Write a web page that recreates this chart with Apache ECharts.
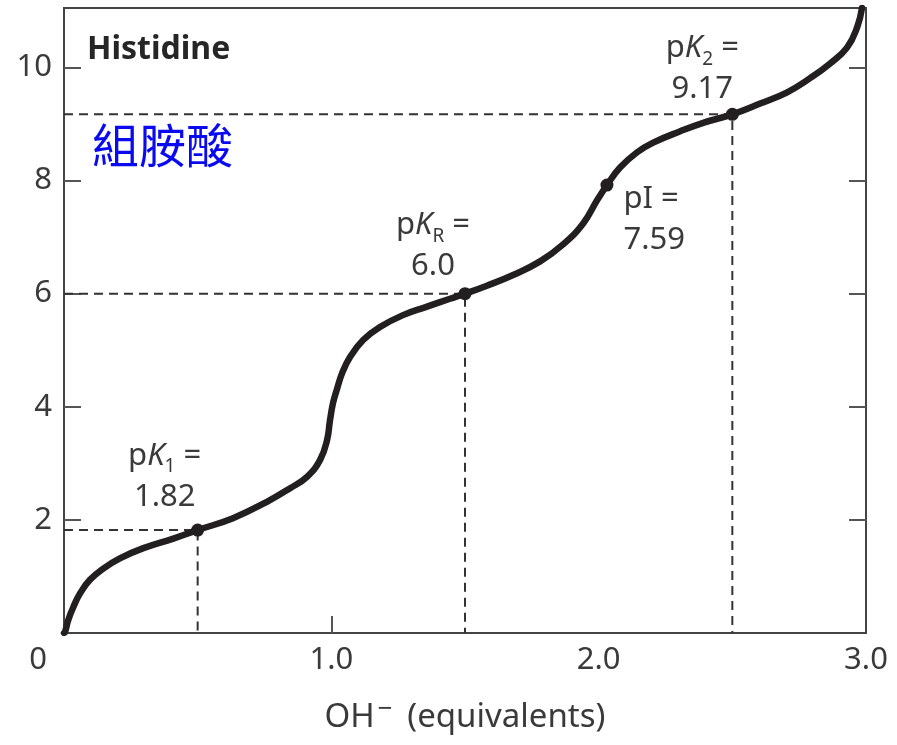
<!DOCTYPE html>
<html>
<head>
<meta charset="utf-8">
<script src="https://cdn.jsdelivr.net/npm/echarts@6/dist/echarts.min.js"></script>
<style>html,body{margin:0;padding:0;background:#fff}#c{width:897px;height:745px}</style>
</head>
<body>
<div id="c"></div>
<script>
// ---- data ----
const xTickValues = [0, 1, 2, 3];
const yTickValues = [2, 4, 6, 8, 10];
const xAxisName = 'OH{sup|−} (equivalents)';
const titleText = 'Histidine';
const subtitleText = '組胺酸';

const curveX = [0, 0.004, 0.016, 0.035, 0.060, 0.097, 0.147, 0.209, 0.297, 0.409, 0.5, 0.632, 0.759, 0.846, 0.909, 0.958, 0.984, 0.995, 1.006, 1.021, 1.040, 1.070, 1.119, 1.182, 1.268, 1.358, 1.444, 1.5, 1.582, 1.680, 1.781, 1.867, 1.942, 1.994, 2.031, 2.080, 2.144, 2.204, 2.305, 2.391, 2.5, 2.604, 2.705, 2.791, 2.866, 2.929, 2.967, 2.985];
const curveY = [0, 0.02, 0.23, 0.46, 0.70, 0.94, 1.14, 1.32, 1.50, 1.67, 1.82, 2.03, 2.32, 2.56, 2.76, 3.06, 3.41, 3.76, 4.06, 4.31, 4.59, 4.88, 5.18, 5.41, 5.62, 5.77, 5.91, 6.0, 6.14, 6.33, 6.57, 6.87, 7.24, 7.65, 7.92, 8.23, 8.50, 8.67, 8.87, 9.02, 9.17, 9.36, 9.56, 9.81, 10.07, 10.35, 10.71, 11.05];

const pointNames = ['pK1', 'pKR', 'pI', 'pK2'];
const pointX = [0.5, 1.5, 2.031, 2.5];
const pointY = [1.82, 6.0, 7.92, 9.17];
const pointLabels = [
  'p{i|K}{s|1} =\n1.82',
  'p{i|K}{s|R} =\n6.0',
  'pI =\n7.59',
  'p{i|K}{s|2} =\n9.17'
];
const guided = [true, true, false, true];

// ---- chart ----
const FONT = '"Noto Sans", "Open Sans", sans-serif';
const TXT = '#3a3a3a';
const chart = echarts.init(document.getElementById('c'), null, {renderer: 'canvas'});

const richLbl = {
  i: {fontStyle: 'italic', fontSize: 31, fontFamily: FONT, color: TXT, lineHeight: 41},
  s: {fontSize: 19, fontFamily: FONT, color: TXT, lineHeight: 24, verticalAlign: 'bottom'}
};

const labelCfg = [
  {position: 'top', distance: 0, offset: [-33, -6]},
  {position: 'top', distance: 0, offset: [-32, 0]},
  {position: 'right', distance: 10, offset: [0, 35], align: 'left'},
  {position: 'top', distance: 0, offset: [-30, 2]}
];

const guideSeries = [];
pointX.forEach((x, k) => {
  if (!guided[k]) return;
  guideSeries.push({
    type: 'line', name: pointNames[k] + ' guide', z: 1,
    data: [[0, pointY[k]], [x, pointY[k]], [x, 0]],
    symbol: 'none', silent: true,
    lineStyle: {color: '#333', width: 2, type: [9, 6]}
  });
});

chart.setOption({
  animation: false,
  backgroundColor: '#fff',
  title: [
    {text: titleText, left: 87, top: 34, padding: 0,
     textStyle: {fontFamily: FONT, fontWeight: 'bold', fontSize: 32, color: '#262626'}},
    {text: subtitleText, left: 92, top: 122, padding: 0,
     textStyle: {fontFamily: '"Noto Sans CJK TC", "Noto Sans CJK SC", sans-serif', fontWeight: 'normal', fontSize: 47, color: '#0a0af0'}}
  ],
  grid: {left: 64, right: 31, top: 8, bottom: 112, outerBoundsMode: 'none', containLabel: false,
         show: true, borderColor: '#444', borderWidth: 2, backgroundColor: 'transparent'},
  xAxis: {
    type: 'value', min: 0, max: 3,
    name: xAxisName, nameLocation: 'middle', nameGap: 64,
    nameTextStyle: {fontFamily: FONT, fontSize: 33, color: TXT, lineHeight: 42,
      rich: {sup: {fontSize: 26, fontFamily: FONT, color: TXT, verticalAlign: 'top', lineHeight: 30, padding: [0, 6, 0, 3]}}},
    axisLine: {show: false},
    splitLine: {show: false},
    axisTick: {show: true, inside: true, length: 17, customValues: [1], lineStyle: {color: '#555', width: 2}},
    axisLabel: {
      customValues: xTickValues, margin: 12,
      fontFamily: FONT, fontSize: 31, color: TXT,
      formatter: v => v === 0 ? '{o|0}' : v.toFixed(1),
      rich: {o: {fontFamily: FONT, fontSize: 31, color: TXT, padding: [0, 52, 0, 0]}}
    }
  },
  yAxis: [
    {
      type: 'value', min: 0, max: 11.05, position: 'left',
      axisLine: {show: false}, splitLine: {show: false},
      axisTick: {show: true, inside: true, length: 17, customValues: yTickValues, lineStyle: {color: '#555', width: 2}},
      axisLabel: {customValues: yTickValues, margin: 12, fontFamily: FONT, fontSize: 31, color: TXT}
    },
    {
      type: 'value', min: 0, max: 11.05, position: 'right',
      axisLine: {show: false}, splitLine: {show: false},
      axisTick: {show: true, inside: true, length: 17, customValues: yTickValues, lineStyle: {color: '#555', width: 2}},
      axisLabel: {show: false}
    }
  ],
  series: [
    ...guideSeries,
    {
      type: 'line', name: 'Histidine', z: 3,
      data: curveX.map((x, k) => [x, curveY[k]]),
      smooth: 0.45,
      symbol: 'none', clip: true,
      lineStyle: {color: '#231f20', width: 6.5, cap: 'round', join: 'round'}
    },
    {
      type: 'scatter', name: 'points', z: 4,
      symbolSize: 13,
      itemStyle: {color: '#231f20', opacity: 1},
      data: pointX.map((x, k) => ({
        value: [x, pointY[k]],
        label: Object.assign({
          show: true, formatter: pointLabels[k], opacity: 1,
          fontFamily: FONT, fontSize: 31, color: TXT, lineHeight: 41,
          rich: richLbl
        }, labelCfg[k])
      }))
    }
  ]
});
</script>
</body>
</html>
